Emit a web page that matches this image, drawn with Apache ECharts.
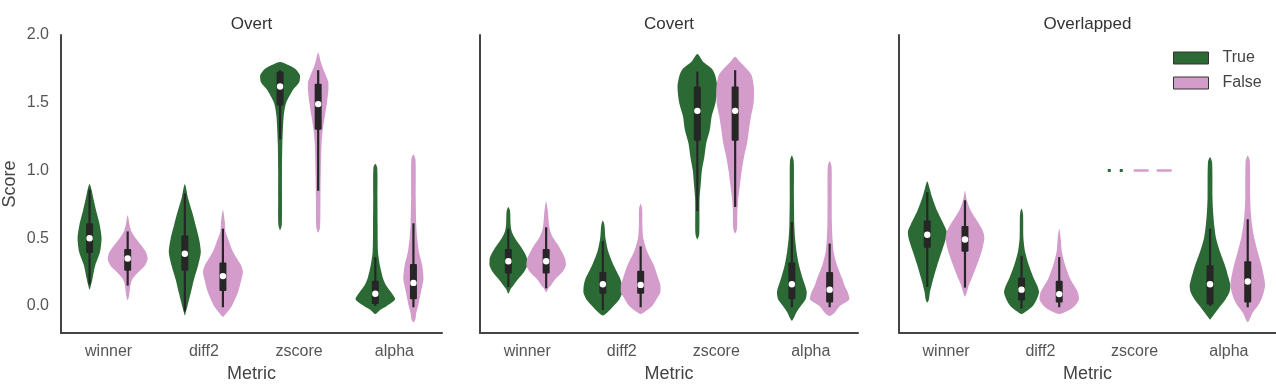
<!DOCTYPE html>
<html>
<head>
<meta charset="utf-8">
<script src="https://cdn.jsdelivr.net/npm/echarts@6/dist/echarts.min.js"></script>
<style>
  html, body { margin: 0; padding: 0; background: #fff; }
  #violins { width: 1276px; height: 387px; }
</style>
</head>
<body>
<div id="violins"></div>
<script>
var panels = ['Overt', 'Covert', 'Overlapped'];
var metrics = ['winner', 'diff2', 'zscore', 'alpha'];
var hues = ['True', 'False'];
var scoreTicks = [0, 0.5, 1, 1.5, 2];

// violin outlines: [score, relative half width], bottom tip to top tip
// order of each list: winner, diff2, zscore, alpha (null = single value, no spread)
var overtTrueShape = [
  [[0.12,0],[0.15,0.07],[0.2,0.15],[0.3,0.3],[0.4,0.55],[0.5,0.63],[0.6,0.53],[0.7,0.35],[0.8,0.19],[0.86,0.1],[0.9,0]],
  [[-0.07,0],[-0.03,0.08],[0,0.14],[0.1,0.32],[0.2,0.49],[0.3,0.7],[0.4,0.84],[0.5,0.74],[0.6,0.56],[0.7,0.37],[0.8,0.16],[0.86,0.08],[0.9,0]],
  [[0.56,0],[0.6,0.09],[0.8,0.1],[1.0,0.1],[1.2,0.12],[1.4,0.19],[1.5,0.32],[1.6,0.7],[1.65,1.0],[1.7,1.05],[1.75,0.79],[1.78,0.4],[1.8,0]],
  [[-0.06,0],[-0.03,0.25],[0,0.6],[0.05,1.04],[0.1,0.83],[0.15,0.57],[0.2,0.41],[0.3,0.24],[0.4,0.14],[0.6,0.12],[0.8,0.11],[1.02,0.1],[1.05,0]]
];
var overtFalseShape = [
  [[0.04,0],[0.08,0.08],[0.15,0.14],[0.2,0.26],[0.25,0.57],[0.3,0.92],[0.35,1.05],[0.4,0.95],[0.45,0.7],[0.5,0.42],[0.55,0.2],[0.6,0.1],[0.67,0]],
  [[-0.08,0],[-0.05,0.2],[0,0.47],[0.1,0.79],[0.2,0.98],[0.25,1.05],[0.3,0.95],[0.4,0.53],[0.5,0.26],[0.55,0.13],[0.62,0.1],[0.71,0]],
  [[0.54,0],[0.58,0.1],[0.8,0.12],[1.0,0.14],[1.2,0.18],[1.3,0.24],[1.4,0.35],[1.5,0.46],[1.6,0.54],[1.65,0.54],[1.7,0.41],[1.75,0.26],[1.8,0.14],[1.87,0]],
  [[-0.12,0],[-0.1,0.1],[-0.05,0.15],[0,0.25],[0.1,0.39],[0.2,0.53],[0.3,0.46],[0.4,0.29],[0.5,0.2],[0.6,0.15],[0.8,0.12],[1.08,0.11],[1.12,0]]
];
var covertTrueShape = [
  [[0.09,0],[0.12,0.1],[0.15,0.26],[0.2,0.53],[0.25,0.83],[0.3,1.0],[0.35,0.99],[0.4,0.83],[0.45,0.6],[0.5,0.35],[0.55,0.18],[0.6,0.12],[0.7,0.09],[0.73,0]],
  [[-0.07,0],[-0.05,0.22],[0,0.57],[0.05,0.88],[0.1,1.03],[0.15,1.01],[0.2,0.92],[0.3,0.57],[0.4,0.29],[0.5,0.14],[0.6,0.08],[0.63,0]],
  [[0.49,0],[0.53,0.1],[0.7,0.11],[0.8,0.12],[0.9,0.18],[1.0,0.24],[1.1,0.37],[1.2,0.47],[1.3,0.66],[1.4,0.76],[1.5,0.96],[1.62,1.05],[1.7,0.95],[1.75,0.77],[1.8,0.32],[1.86,0]],
  [[-0.11,0],[-0.09,0.1],[-0.05,0.23],[0,0.47],[0.05,0.73],[0.1,0.79],[0.15,0.7],[0.2,0.58],[0.3,0.38],[0.4,0.25],[0.5,0.17],[0.6,0.13],[0.8,0.11],[1.07,0.1],[1.11,0]]
];
var covertFalseShape = [
  [[0.1,0],[0.13,0.12],[0.15,0.25],[0.2,0.5],[0.25,0.86],[0.3,1.05],[0.35,1.0],[0.4,0.83],[0.45,0.63],[0.5,0.38],[0.55,0.22],[0.6,0.15],[0.7,0.09],[0.77,0]],
  [[-0.06,0],[-0.04,0.26],[0,0.61],[0.05,0.84],[0.1,1.05],[0.15,1.05],[0.2,0.94],[0.3,0.7],[0.4,0.35],[0.5,0.14],[0.6,0.09],[0.72,0.08],[0.755,0]],
  [[0.535,0],[0.57,0.1],[0.7,0.12],[0.8,0.17],[0.9,0.26],[1.0,0.35],[1.1,0.47],[1.2,0.63],[1.3,0.73],[1.4,0.84],[1.5,0.98],[1.6,1.0],[1.7,0.88],[1.75,0.61],[1.8,0.26],[1.84,0]],
  [[-0.075,0],[-0.05,0.26],[0,0.54],[0.05,1.05],[0.1,0.96],[0.15,0.79],[0.2,0.67],[0.3,0.39],[0.4,0.21],[0.5,0.15],[0.6,0.12],[0.8,0.11],[1.03,0.1],[1.07,0]]
];
var overlappedTrueShape = [
  [[0.025,0],[0.05,0.09],[0.1,0.14],[0.2,0.32],[0.3,0.53],[0.4,0.76],[0.5,0.99],[0.55,1.03],[0.6,0.88],[0.7,0.53],[0.8,0.26],[0.88,0.1],[0.92,0]],
  [[-0.06,0],[-0.04,0.25],[0,0.6],[0.05,0.81],[0.1,0.93],[0.15,0.83],[0.2,0.66],[0.3,0.39],[0.4,0.19],[0.5,0.1],[0.68,0.08],[0.72,0]],
  null,
  [[-0.1,0],[-0.08,0.12],[-0.05,0.28],[0,0.55],[0.05,0.83],[0.1,1.03],[0.15,1.08],[0.2,1.0],[0.3,0.79],[0.4,0.53],[0.5,0.32],[0.6,0.22],[0.7,0.16],[0.8,0.13],[1.06,0.11],[1.1,0]]
];
var overlappedFalseShape = [
  [[0.067,0],[0.1,0.1],[0.15,0.2],[0.2,0.35],[0.3,0.63],[0.4,0.88],[0.5,1.03],[0.55,0.96],[0.6,0.77],[0.7,0.32],[0.78,0.1],[0.85,0]],
  [[-0.06,0],[-0.04,0.41],[0,0.82],[0.05,1.05],[0.1,0.99],[0.15,0.79],[0.2,0.58],[0.3,0.32],[0.4,0.14],[0.5,0.08],[0.57,0]],
  null,
  [[-0.12,0],[-0.1,0.1],[-0.05,0.26],[0,0.53],[0.05,0.73],[0.1,0.85],[0.15,0.92],[0.2,0.88],[0.3,0.73],[0.4,0.53],[0.5,0.35],[0.6,0.23],[0.7,0.16],[0.8,0.13],[1.07,0.11],[1.11,0]]
];

// inner box: [whisker low, q1, median, q3, whisker high]
var overtTrueBox = [[0.16,0.39,0.50,0.61,0.86], [-0.04,0.26,0.385,0.52,0.83], [1.23,1.48,1.62,1.73,1.74], [0.0,0.015,0.09,0.185,0.36]];
var overtFalseBox = [[0.15,0.26,0.35,0.42,0.55], [-0.01,0.11,0.22,0.32,0.57], [0.85,1.30,1.49,1.64,1.74], [-0.01,0.05,0.17,0.31,0.61]];
var covertTrueBox = [[0.14,0.24,0.33,0.42,0.57], [-0.03,0.09,0.16,0.25,0.48], [0.70,1.22,1.44,1.62,1.73], [-0.01,0.05,0.16,0.32,0.62]];
var covertFalseBox = [[0.13,0.24,0.33,0.42,0.58], [-0.01,0.09,0.155,0.26,0.44], [0.73,1.22,1.44,1.62,1.74], [-0.01,0.025,0.12,0.25,0.46]];
var overlappedTrueBox = [[0.14,0.43,0.525,0.63,0.84], [-0.02,0.04,0.12,0.21,0.37], [1,1,1,1,1], [0.0,0.01,0.16,0.30,0.57]];
var overlappedFalseBox = [[0.135,0.40,0.49,0.59,0.78], [-0.01,0.025,0.087,0.185,0.36], [1,1,1,1,1], [-0.01,0.025,0.18,0.33,0.64]];

var green = '#2b6a34';
var pink = '#d49ccb';
var inner = '#262626';
var font = 'Liberation Sans, Arial, sans-serif';

var myChart = echarts.init(document.getElementById('violins'));

var gridLeft = [61, 480, 899];
var gridWidth = [381, 378, 377];

function violin(panel, hue, shapes, boxes) {
  var side = hue === 'True' ? -1 : 1;
  var color = hue === 'True' ? green : pink;
  return {
    type: 'custom',
    name: hue,
    xAxisIndex: panel,
    yAxisIndex: panel,
    itemStyle: { color: color },
    data: boxes.map(function (b, i) { return [i, b[2]]; }),
    renderItem: function (params, api) {
      var i = params.dataIndex;
      var shape = shapes[i];
      var box = boxes[i];
      var band = api.size([1, 0])[0];
      var cx = api.coord([i, 0])[0] + side * 0.2 * band;
      var half = 0.2 * band;
      var y = function (v) { return api.coord([i, v])[1]; };

      if (!shape) {
        // single value: seaborn leaves only a flat broken line
        var w = hue === 'True' ? 0.085 * band : 0.21 * band;
        return {
          type: 'line',
          shape: { x1: cx - w, y1: y(box[2]), x2: cx + w, y2: y(box[2]) },
          style: {
            stroke: color,
            lineWidth: hue === 'True' ? 3 : 2.5,
            lineDash: hue === 'True' ? [3, 9] : [15, 8]
          }
        };
      }

      var right = shape.map(function (p) { return [cx + p[1] * half, y(p[0])]; });
      var left = shape.slice(1, -1).reverse().map(function (p) { return [cx - p[1] * half, y(p[0])]; });
      var pts = right.concat(left);
      var xs = pts.map(function (p) { return p[0]; });
      var ys = pts.map(function (p) { return p[1]; });
      var bounds = [
        [Math.min.apply(null, xs), Math.min.apply(null, ys)],
        [Math.max.apply(null, xs), Math.max.apply(null, ys)]
      ];

      return {
        type: 'group',
        children: [
          {
            type: 'polygon',
            shape: { points: pts, smooth: 0.25, smoothConstraint: bounds },
            style: { fill: color }
          },
          {
            type: 'line',
            shape: { x1: cx, y1: y(box[0]), x2: cx, y2: y(box[4]) },
            style: { stroke: inner, lineWidth: 2.2 }
          },
          {
            type: 'rect',
            shape: { x: cx - 3.5, y: y(box[3]), width: 7, height: y(box[1]) - y(box[3]), r: 1 },
            style: { fill: inner }
          },
          {
            type: 'circle',
            shape: { cx: cx, cy: y(box[2]), r: 3.2 },
            style: { fill: '#fff' }
          }
        ]
      };
    }
  };
}

var option = {
  animation: false,
  textStyle: { fontFamily: font },
  title: panels.map(function (p, k) {
    return {
      text: p,
      left: gridLeft[k] + gridWidth[k] / 2,
      top: 16,
      padding: 0,
      textAlign: 'center',
      textStyle: { fontSize: 17, fontWeight: 'normal', color: '#333', fontFamily: font }
    };
  }),
  legend: {
    data: hues,
    orient: 'vertical',
    left: 1173,
    top: 50,
    padding: 0,
    itemWidth: 35,
    itemHeight: 12,
    itemGap: 9,
    icon: 'rect',
    itemStyle: { borderColor: '#333', borderWidth: 1 },
    textStyle: { fontSize: 16, color: '#444', fontFamily: font, padding: [0, 0, 0, 9] }
  },
  grid: panels.map(function (p, k) {
    return { left: gridLeft[k], width: gridWidth[k], top: 35, bottom: 54, outerBoundsMode: 'none' };
  }),
  xAxis: panels.map(function (p, k) {
    return {
      type: 'category',
      gridIndex: k,
      data: metrics,
      name: 'Metric',
      nameLocation: 'middle',
      nameGap: 31,
      nameTextStyle: { fontSize: 18, color: '#444' },
      axisLine: { show: true, onZero: false, lineStyle: { color: '#444', width: 2 } },
      axisTick: { show: false },
      axisLabel: { margin: 11, fontSize: 16, color: '#555' },
      splitLine: { show: false }
    };
  }),
  yAxis: panels.map(function (p, k) {
    return {
      type: 'value',
      gridIndex: k,
      min: -0.2,
      max: 2.0,
      name: k === 0 ? 'Score' : '',
      nameLocation: 'middle',
      nameGap: 42,
      nameTextStyle: { fontSize: 18, color: '#444' },
      axisLine: { show: true, onZero: false, lineStyle: { color: '#444', width: 2 } },
      axisTick: { show: false },
      axisLabel: {
        show: k === 0,
        margin: 12,
        fontSize: 16,
        color: '#555',
        customValues: scoreTicks,
        formatter: function (v) { return v.toFixed(1); }
      },
      splitLine: { show: false }
    };
  }),
  series: [
    violin(0, 'True', overtTrueShape, overtTrueBox),
    violin(0, 'False', overtFalseShape, overtFalseBox),
    violin(1, 'True', covertTrueShape, covertTrueBox),
    violin(1, 'False', covertFalseShape, covertFalseBox),
    violin(2, 'True', overlappedTrueShape, overlappedTrueBox),
    violin(2, 'False', overlappedFalseShape, overlappedFalseBox)
  ]
};

myChart.setOption(option);

window.addEventListener('resize', myChart.resize);
</script>
</body>
</html>
